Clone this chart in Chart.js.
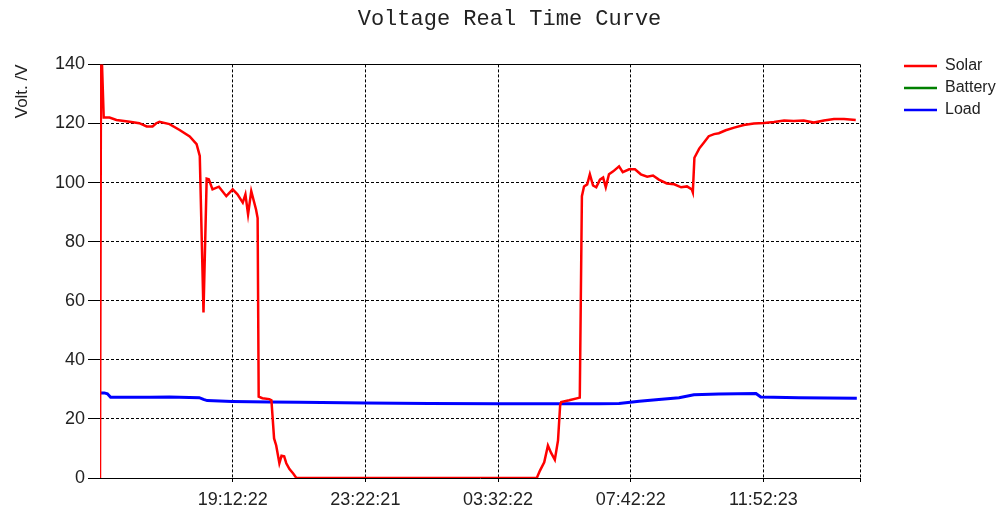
<!DOCTYPE html>
<html>
<head>
    <meta charset="UTF-8">
    <title>Voltage Real Time Curve</title>
    <script src="https://cdn.jsdelivr.net/npm/chart.js"></script>
    <style>
        body { margin: 0; background: #fff; }
    </style>
</head>
<body>
    <canvas id="voltChart" width="999" height="511"></canvas>

<script>
        // x values are minutes since the first sample (15:02:22)
        const solarMinutes = [
            0, 2, 7, 18, 31, 56, 74, 88, 99, 106,
            112, 131, 150, 169, 182, 188, 195, 201, 205, 212,
            224, 238, 250, 259, 269, 274, 279, 285, 294, 297,
            299, 306, 319, 323, 328, 332, 338, 342, 347, 351,
            357, 364, 370, 823, 829, 837, 844, 850, 857, 863,
            867, 869, 884, 904, 908, 912, 918, 923, 929,
            935, 942, 948, 953, 959, 967, 978, 985, 997, 1008,
            1019, 1031, 1042, 1053, 1068, 1082, 1095, 1106, 1115, 1117,
            1120, 1129, 1138, 1147, 1157, 1166, 1179, 1195, 1213, 1232,
            1251, 1270, 1289, 1307, 1326, 1345, 1364, 1383, 1402, 1424
        ];
        const solarVolts = [
            0, 150, 122, 122, 121.2, 120.6, 120.1, 119, 119, 120.1,
            120.6, 119.8, 117.8, 115.6, 113, 109, 56, 101.3, 101.1, 97.7,
            98.6, 95.4, 97.7, 96, 93.2, 96, 89.2, 97.1, 90.9, 88,
            27.5, 27, 26.7, 26.3, 13.4, 11, 5, 7.5, 7.3, 5,
            3, 1.5, 0, 0, 2.5, 5.3, 11, 8.5, 6.2, 12.7,
            24.6, 25.7, 26.3, 27.2, 95.4, 98.7, 99.4, 102.8, 99,
            98.4, 101, 101.7, 98.4, 102.8, 103.8, 105.5, 103.5, 104.5, 104.5,
            102.8, 102, 102.4, 101, 99.7, 99.4, 98.4, 98.7, 97.7, 96.7,
            108.4, 111.5, 113.6, 115.7, 116.4, 116.7, 117.7, 118.6, 119.5, 120,
            120.2, 120.5, 121, 120.8, 121, 120.3, 121, 121.5, 121.5, 121.2
        ];

        // battery channel logged nothing in this run
        const batteryMinutes = [];
        const batteryVolts = [];

        const loadMinutes = [1, 8, 14, 20, 93, 131, 187, 195, 202, 249, 319, 376, 500, 620,
            752, 865, 940, 978, 1016, 1053, 1091, 1119, 1166, 1236, 1245, 1317, 1426];
        const loadVolts = [28.8, 28.8, 28.5, 27.3, 27.3, 27.4, 27.2, 26.6, 26.2, 25.9, 25.7, 25.6, 25.4, 25.2,
            25.1, 25.1, 25.1, 25.2, 26.0, 26.6, 27.2, 28.2, 28.4, 28.6, 27.4, 27.2, 27.0];

        const tickMinutes = [250, 500, 750, 1000, 1250];
        const tickLabels = ['19:12:22', '23:22:21', '03:32:22', '07:42:22', '11:52:23'];
        const xMax = 1432;

        function toPoints(xs, ys) {
            var pts = [];
            for (var i = 0; i < xs.length; i++) {
                pts.push({ x: xs[i], y: ys[i] });
            }
            return pts;
        }

        const labelFont = { family: '"Liberation Sans", Arial, sans-serif', size: 18 };

        // solid top edge of the plot box plus the legend on the right
        const frameLegend = {
            id: 'frameLegend',
            beforeDatasetsDraw(chart) {
                const a = chart.chartArea;
                const ctx = chart.ctx;
                ctx.save();
                ctx.strokeStyle = '#000';
                ctx.lineWidth = 1;
                ctx.beginPath();
                ctx.moveTo(a.left, Math.round(a.top) + 0.5);
                ctx.lineTo(a.right, Math.round(a.top) + 0.5);
                ctx.stroke();
                ctx.restore();
            },
            afterDraw(chart) {
                const ctx = chart.ctx;
                ctx.save();
                ctx.font = '16px "Liberation Sans", Arial, sans-serif';
                ctx.textBaseline = 'middle';
                chart.data.datasets.forEach(function (ds, i) {
                    const y = 66 + i * 22;
                    ctx.strokeStyle = ds.borderColor;
                    ctx.lineWidth = 2.5;
                    ctx.beginPath();
                    ctx.moveTo(904, y);
                    ctx.lineTo(937, y);
                    ctx.stroke();
                    ctx.fillStyle = '#222';
                    ctx.fillText(ds.label, 945, y);
                });
                ctx.restore();
            }
        };

        new Chart(document.getElementById('voltChart'), {
            type: 'line',
            data: {
                datasets: [
                    { label: 'Solar', data: toPoints(solarMinutes, solarVolts), borderColor: '#ff0000', borderWidth: 2.5 },
                    { label: 'Battery', data: toPoints(batteryMinutes, batteryVolts), borderColor: '#008000', borderWidth: 2.5 },
                    { label: 'Load', data: toPoints(loadMinutes, loadVolts), borderColor: '#0000ff', borderWidth: 3 }
                ]
            },
            options: {
                responsive: false,
                animation: false,
                elements: { point: { radius: 0 }, line: { tension: 0 } },
                layout: { padding: { left: 20, right: 0, top: 0, bottom: 0 } },
                plugins: {
                    legend: { display: false },
                    tooltip: { enabled: false },
                    title: {
                        display: true,
                        text: 'Voltage Real Time Curve',
                        color: '#222',
                        font: { family: '"Liberation Mono", monospace', size: 22, weight: 'normal' },
                        padding: { top: 6, bottom: 32 }
                    }
                },
                scales: {
                    x: {
                        type: 'linear',
                        min: 0,
                        max: xMax,
                        afterBuildTicks: function (scale) {
                            scale.ticks = tickMinutes.concat([xMax]).map(function (v) { return { value: v }; });
                        },
                        afterFit: function (scale) { scale.height = 33; },
                        ticks: {
                            autoSkip: false,
                            maxRotation: 0,
                            padding: 7,
                            color: '#222',
                            font: labelFont,
                            callback: function (v) {
                                const i = tickMinutes.indexOf(v);
                                return i >= 0 ? tickLabels[i] : '';
                            }
                        },
                        grid: { color: '#000', tickLength: 4, tickBorderDash: [] },
                        border: { color: '#000', width: 1, dash: [3, 2] }
                    },
                    y: {
                        min: 0,
                        max: 140,
                        afterFit: function (scale) { scale.width = 80; },
                        ticks: { stepSize: 20, padding: 3, color: '#222', font: labelFont },
                        grid: { color: '#000', tickLength: 12, tickBorderDash: [] },
                        border: { color: '#000', width: 1, dash: [3, 2] },
                        title: {
                            display: true,
                            text: 'Volt. /V',
                            align: 'end',
                            color: '#222',
                            font: { family: '"Liberation Sans", Arial, sans-serif', size: 17 },
                            padding: { top: -8, bottom: 0 }
                        }
                    },
                    // empty strip on the right that holds the legend
                    side: {
                        position: 'right',
                        afterFit: function (scale) { scale.width = 139; },
                        ticks: { display: false },
                        grid: { display: false },
                        border: { display: false }
                    }
                }
            },
            plugins: [frameLegend]
        });
    </script>
</body>
</html>
